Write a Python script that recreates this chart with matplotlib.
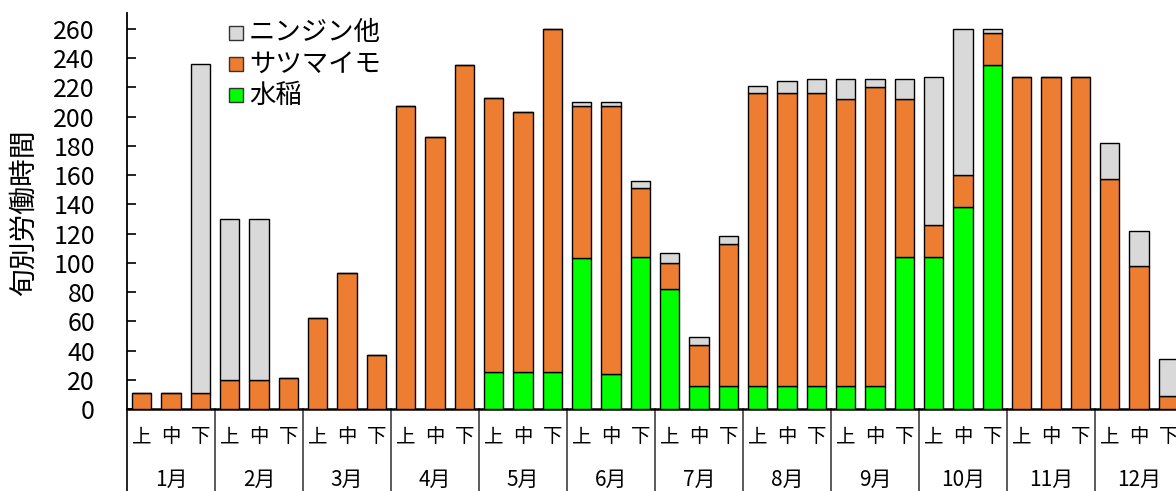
import matplotlib
matplotlib.use("Agg")
import matplotlib.pyplot as plt
from matplotlib.patches import Rectangle
import numpy as np

plt.rcParams['font.family'] = ['Noto Sans CJK JP', 'DejaVu Sans']

months = ['1月', '2月', '3月', '4月', '5月', '6月', '7月', '8月', '9月', '10月', '11月', '12月']
dekads = ['上', '中', '下']

# 旬別労働時間 (作物別)
rice = [0, 0, 0, 0, 0, 0, 0, 0, 0, 0, 0, 0,
        25, 25, 25, 103, 24, 104, 82, 16, 16, 16, 16, 16,
        16, 16, 104, 104, 138, 235, 0, 0, 0, 0, 0, 0]
sweet_potato = [11, 11, 11, 20, 20, 21, 62, 93, 37, 207, 186, 235,
                188, 178, 235, 104, 183, 47, 18, 28, 97, 200, 200, 200,
                196, 204, 108, 22, 22, 22, 227, 227, 227, 157, 98, 9]
carrot_etc = [0, 0, 225, 110, 110, 0, 0, 0, 0, 0, 0, 0,
              0, 0, 0, 3, 3, 5, 7, 5, 5, 5, 8, 10,
              14, 6, 14, 101, 100, 3, 0, 0, 0, 25, 24, 25]

series_names = ['水稲', 'サツマイモ', 'ニンジン他']
series_colors = ['#00FF00', '#ED7D31', '#D9D9D9']

W, H = 1176, 491
fig = plt.figure(figsize=(W / 100, H / 100), dpi=100)
left_px, right_px, top_px, bottom_px = 127, 1183, 12.7, 409
ax = fig.add_axes([left_px / W, 1 - bottom_px / H,
                   (right_px - left_px) / W, (bottom_px - top_px) / H])

x = np.arange(len(rice))
bottom = np.zeros(len(rice))
for vals, name, col in zip([rice, sweet_potato, carrot_etc], series_names, series_colors):
    vals = np.asarray(vals, dtype=float)
    ax.bar(x, vals, width=0.67, bottom=bottom, color=col, edgecolor='black',
           linewidth=1.0, label=name, zorder=3)
    bottom += vals

ax.set_xlim(-0.5, len(rice) - 0.5)
ax.set_ylim(0, 271)
ax.set_yticks(np.arange(0, 261, 20))
ax.tick_params(axis='y', direction='in', length=6.5, width=1.2, labelsize=18, pad=23)
ax.set_xticks([])
for s in ['top', 'right']:
    ax.spines[s].set_visible(False)
ax.spines['left'].set_linewidth(1.3)
ax.spines['bottom'].set_linewidth(1.8)

fig.text(24 / W, 1 - 213 / H, '旬別労働時間', fontsize=20, rotation=90,
         ha='center', va='center')

# category table below the axis
axh = bottom_px - top_px
trans = ax.get_xaxis_transform()
y_dek = -(437 - bottom_px) / axh
y_mon = -(480 - bottom_px) / axh
y_end = -(H - bottom_px) / axh
for i in x:
    ax.text(i, y_dek, dekads[i % 3], transform=trans, ha='center', va='center',
            fontsize=14)
for m, name in enumerate(months):
    ax.text(3 * m + 1, y_mon, name, transform=trans, ha='center', va='center',
            fontsize=15)
for b in np.arange(-0.5, len(rice), 3):
    ax.plot([b, b], [0, y_end], transform=trans, color='#404040' if b > 0 else 'black',
            linewidth=1.2, clip_on=False)

# legend (top entry first)
leg_rows = [(33, 2), (64, 1), (95, 0)]
sq = 14
for ypx, idx in leg_rows:
    fig.patches.append(Rectangle((229 / W, 1 - (ypx + sq / 2) / H), sq / W, sq / H,
                                 facecolor=series_colors[idx], edgecolor='#333333',
                                 linewidth=1.0, transform=fig.transFigure))
    fig.text(249 / W, 1 - ypx / H, series_names[idx], fontsize=19,
             ha='left', va='center')

fig.savefig('out.png', dpi=100)
